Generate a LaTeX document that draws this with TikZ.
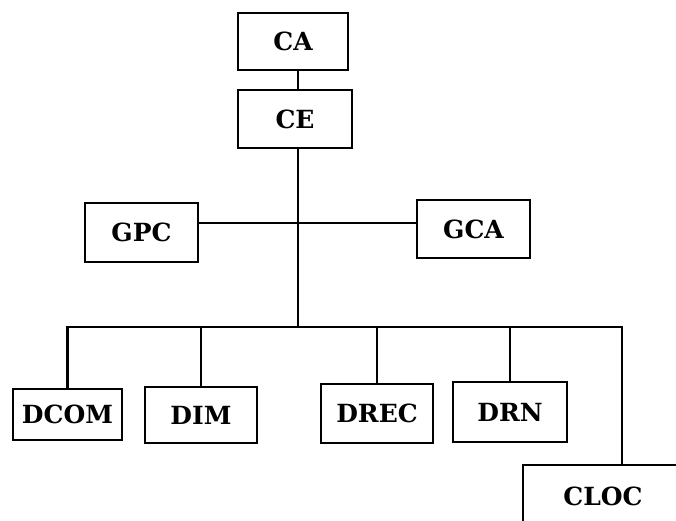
\documentclass[tikz,border=0pt]{standalone}
\usepackage{fontspec}
\setmainfont{DejaVu Serif}
\usepackage{tikz}
\usetikzlibrary{positioning, calc}

\begin{document}
\begin{tikzpicture}[
        x=1pt, y=-1pt,
        % --- Style Definitions ---
        unit_box/.style={rectangle, draw=black, line width=2.2pt, fill=white, minimum width=112pt, minimum height=58pt, inner sep=0pt, font=\fontsize{25}{29}\selectfont\bfseries},
        link/.style={draw=black, line width=2.2pt}
    ]

        % --- Frame ---
        \path[use as bounding box, clip] (0,0) rectangle (676,521);
        \fill[white] (0,0) rectangle (676,521);

        % --- Top Level ---
        \node[unit_box, minimum width=110pt, minimum height=57pt] (ca) at (293,41.5) {CA};
        \node[unit_box, minimum width=114pt] (ce) at (295,119) {CE};

        % --- Staff Units ---
        \node[unit_box, minimum width=113pt, minimum height=59pt] (gpc) at (141.5,232.5) {GPC};
        \node[unit_box, minimum width=113pt] (gca) at (473.5,229) {GCA};

        % --- Directorates ---
        \node[unit_box, minimum width=109pt, minimum height=51pt] (dcom) at (67.5,414.5) {DCOM};
        \node[unit_box, minimum height=56pt] (dim)  at (201,415) {DIM};
        \node[unit_box, minimum height=59pt] (drec) at (377,413.5) {DREC};
        \node[unit_box, minimum width=114pt, minimum height=60pt] (drn) at (510,412) {DRN};
        \node[unit_box, minimum width=160pt, minimum height=62pt] (cloc) at (603,496) {CLOC};

        % --- Junctions ---
        \coordinate (hub) at (298,223);
        \coordinate (bus) at (298,327);
        \coordinate (cloc_drop) at (622,327);

        % --- Connectors ---
        \draw[link] (ca.south -| hub) -- (ce.north -| hub);
        \draw[link] (ce.south -| hub) -- (bus);
        \draw[link] (gpc.east |- hub) -- (gca.west |- hub);
        \draw[link] (dcom.north) |- (cloc_drop) -- (cloc_drop |- cloc.north);
        \draw[link] (dim.north)  -- (dim.north |- bus);
        \draw[link] (drec.north) -- (drec.north |- bus);
        \draw[link] (drn.north)  -- (drn.north |- bus);

    \end{tikzpicture}
\end{document}
